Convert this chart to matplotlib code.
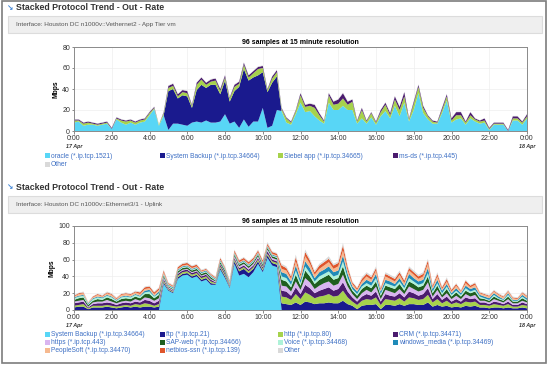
import numpy as np
import matplotlib
matplotlib.use("Agg")
import matplotlib.pyplot as plt
from matplotlib.patches import Rectangle

plt.rcParams['font.family'] = ['Liberation Sans', 'DejaVu Sans']

# ---- data ----
# 96 samples at 15 minute resolution (0:00 17 Apr -> 0:00 18 Apr)
times = np.arange(97) * 0.25
tick_hours = [0, 2, 4, 6, 8, 10, 12, 14, 16, 18, 20, 22, 24]
tick_labels = ['0:00', '2:00', '4:00', '6:00', '8:00', '10:00', '12:00',
               '14:00', '16:00', '18:00', '20:00', '22:00', '0:00']
day_labels = ['17 Apr', '18 Apr']

# chart 1 : Vethernet2 - App Tier vm
oracle = [8, 9, 5, 6, 6, 5, 6, 7, 2, 11, 8, 6, 8, 6, 8, 9, 15, 21, 5, 15,
          1, 7, 7, 6, 5, 8, 9, 8, 10, 8, 8, 9, 16, 7, 9, 3, 11, 4, 9, 9,
          22, 3, 5, 20, 19, 8, 6, 16, 27, 18, 19, 14, 10, 7, 27, 20, 20, 24, 20, 20,
          7, 12, 7, 13, 6, 14, 19, 12, 24, 14, 27, 9, 20, 36, 17, 11, 7, 7, 17, 29,
          8, 11, 12, 6, 12, 9, 7, 8, 1, 6, 6, 6, 0, 10, 10, 6, 12]
backup1 = [0, 0, 0, 0, 0, 0, 0, 0, 0, 0, 0, 0, 0, 0, 0, 0, 0, 0, 0, 0,
           37, 33, 24, 28, 28, 14, 30, 36, 31, 36, 36, 26, 32, 21, 29, 39, 48, 44, 42, 44,
           34, 34, 41, 32, 0, 0, 0, 0, 0, 0, 0, 0, 0, 0, 0, 0, 0, 0, 0, 0,
           0, 0, 0, 0, 0, 0, 0, 0, 0, 0, 0, 0, 0, 0, 0, 0, 0, 0, 0, 0,
           0, 0, 0, 0, 0, 0, 0, 0, 0, 0, 0, 0, 0, 0, 0, 0, 0]
siebel = [2, 1, 2, 2, 1, 1, 1, 1, 0, 1, 2, 3, 2, 2, 2, 2, 2, 1, 1, 2,
          3, 3, 2, 3, 3, 2, 5, 5, 3, 3, 4, 3, 3, 3, 4, 3, 4, 3, 4, 6,
          4, 2, 4, 4, 2, 4, 2, 3, 7, 5, 5, 8, 5, 2, 7, 5, 6, 7, 5, 8,
          2, 8, 2, 4, 2, 4, 6, 3, 6, 6, 6, 2, 6, 6, 5, 3, 2, 1, 3, 4,
          2, 4, 3, 2, 3, 2, 2, 2, 1, 1, 1, 1, 0, 2, 2, 2, 2]
msds = [1, 1, 1, 1, 1, 1, 1, 1, 1, 1, 1, 1, 1, 1, 1, 1, 1, 1, 0, 1,
        2, 2, 2, 2, 2, 1, 2, 2, 2, 2, 2, 2, 2, 1, 2, 2, 2, 2, 2, 2,
        2, 1, 2, 2, 1, 1, 1, 1, 2, 2, 2, 3, 2, 1, 2, 3, 4, 5, 3, 2,
        1, 2, 1, 1, 1, 2, 2, 2, 3, 3, 4, 1, 2, 2, 2, 1, 1, 1, 2, 2,
        2, 3, 3, 1, 3, 1, 1, 2, 1, 1, 1, 1, 1, 2, 2, 1, 2]
other1 = [0.4, 0.4, 0.3, 0.4, 0.3, 0.3, 0.4, 0.4, 0.3, 0.4, 0.4, 0.3, 0.4, 0.3, 0.4, 0.4, 0.5, 0.5, 0.3, 0.4,
          0.5, 0.5, 0.4, 0.5, 0.5, 0.4, 0.5, 0.5, 0.5, 0.5, 0.5, 0.4, 0.5, 0.4, 0.5, 0.5, 0.6, 0.5, 0.5, 0.5,
          0.5, 0.4, 0.5, 0.5, 0.4, 0.4, 0.3, 0.4, 0.5, 0.5, 0.5, 0.5, 0.4, 0.3, 0.5, 0.5, 0.5, 0.6, 0.5, 0.5,
          0.3, 0.5, 0.3, 0.4, 0.3, 0.4, 0.5, 0.4, 0.5, 0.4, 0.5, 0.3, 0.5, 0.6, 0.4, 0.3, 0.3, 0.3, 0.4, 0.5,
          0.3, 0.4, 0.4, 0.3, 0.4, 0.3, 0.3, 0.3, 0.2, 0.3, 0.3, 0.3, 0.2, 0.4, 0.4, 0.3, 0.4]

# chart 2 : Ethernet3/1 - Uplink
backup2 = [0, 0, 0, 0, 0, 0, 0, 0, 0, 0, 0, 0, 0, 0, 0, 0, 0, 0, 0,
           31, 23, 20, 37, 41, 42, 38, 40, 34, 36, 30, 30, 48, 38, 26, 55, 41, 43, 39, 45, 55, 45, 62, 53, 51,
           0, 0, 0, 0, 0, 0, 0, 0, 0, 0, 0, 0, 0, 0, 0, 0, 0, 0, 0, 0, 0, 0, 0, 0, 0, 0,
           0, 0, 0, 0, 0, 0, 0, 0, 0, 0, 0, 0, 0, 0, 0, 0, 0, 0, 0, 0, 0, 0, 0, 0, 0, 0, 0]
ftp = [3, 4, 4, 1, 3, 3, 3, 4, 3, 2, 3, 4, 3, 4, 3, 4, 4, 3, 4,
       2, 1, 1, 2, 2, 2, 2, 2, 2, 2, 2, 1, 2, 2, 1, 3, 5, 6, 5, 4, 3, 2, 3, 3, 3,
       8, 7, 6, 9, 6, 10, 9, 7, 8, 8, 9, 8, 8, 11, 7, 5, 1, 5, 6, 6, 7, 1, 6, 6, 5, 7,
       5, 7, 7, 6, 6, 9, 4, 6, 4, 5, 3, 4, 3, 5, 4, 5, 3, 3, 2, 3, 3, 2, 3, 2, 2, 3, 2]
http = [2, 2, 3, 1, 2, 2, 2, 2, 2, 2, 2, 2, 2, 3, 3, 4, 3, 2, 3,
        2, 1, 1, 2, 2, 2, 2, 2, 2, 2, 2, 1, 2, 2, 1, 2, 2, 2, 2, 2, 2, 2, 2, 2, 2,
        8, 8, 6, 10, 7, 11, 9, 7, 8, 9, 10, 8, 9, 12, 8, 5, 5, 6, 7, 6, 8, 5, 7, 6, 6, 7,
        5, 8, 7, 6, 7, 9, 5, 7, 4, 6, 4, 5, 4, 5, 5, 5, 3, 3, 3, 4, 3, 3, 4, 2, 2, 3, 3]
crm = [3, 3, 3, 1, 2, 3, 3, 3, 3, 2, 3, 3, 3, 3, 3, 4, 4, 3, 4,
       2, 1, 1, 2, 2, 2, 2, 2, 2, 2, 2, 1, 2, 2, 1, 2, 2, 2, 2, 2, 2, 2, 3, 2, 2,
       7, 7, 5, 8, 6, 9, 8, 6, 7, 8, 8, 7, 8, 10, 7, 5, 4, 5, 6, 5, 7, 4, 6, 5, 5, 6,
       5, 7, 6, 5, 6, 8, 4, 6, 4, 5, 3, 4, 3, 5, 4, 4, 3, 3, 2, 3, 3, 2, 3, 2, 2, 3, 2]
https = [2, 2, 2, 1, 2, 2, 2, 3, 2, 2, 2, 2, 2, 3, 2, 3, 3, 3, 3,
         2, 1, 1, 1, 1, 1, 1, 1, 1, 1, 1, 1, 1, 1, 1, 2, 2, 2, 2, 2, 2, 1, 2, 2, 2,
         6, 6, 5, 7, 5, 8, 7, 5, 6, 7, 7, 6, 6, 9, 6, 4, 3, 4, 5, 4, 6, 3, 5, 5, 4, 5,
         4, 6, 5, 5, 5, 7, 3, 5, 3, 4, 3, 4, 3, 4, 3, 4, 2, 2, 2, 3, 2, 2, 3, 2, 2, 2, 2]
sapweb = [2, 3, 3, 2, 2, 3, 2, 3, 3, 2, 3, 3, 3, 3, 3, 4, 5, 3, 4,
          2, 1, 1, 2, 2, 2, 2, 2, 2, 2, 2, 1, 2, 2, 1, 2, 2, 2, 2, 2, 2, 2, 2, 2, 2,
          7, 6, 5, 8, 5, 9, 7, 6, 7, 7, 8, 7, 7, 10, 6, 4, 4, 5, 5, 5, 6, 4, 5, 5, 5, 6,
          4, 6, 6, 5, 5, 7, 4, 5, 3, 5, 3, 4, 3, 4, 4, 4, 3, 2, 2, 3, 2, 2, 3, 2, 2, 3, 2]
voice = [2, 2, 2, 1, 2, 2, 2, 2, 2, 1, 2, 2, 2, 2, 2, 2, 3, 2, 2,
         1, 1, 1, 1, 1, 1, 1, 1, 1, 1, 1, 1, 1, 1, 1, 1, 1, 1, 1, 1, 1, 1, 1, 1, 1,
         4, 4, 3, 5, 3, 5, 4, 3, 4, 4, 4, 4, 4, 6, 4, 2, 2, 3, 3, 3, 4, 2, 3, 3, 3, 3,
         3, 4, 3, 3, 3, 4, 2, 3, 2, 3, 2, 2, 2, 3, 2, 2, 2, 1, 1, 2, 1, 1, 2, 1, 1, 2, 1]
wmedia = [1, 1, 1, 1, 1, 1, 1, 1, 1, 1, 1, 1, 1, 1, 1, 2, 2, 1, 2,
          1, 1, 1, 1, 1, 1, 1, 1, 1, 1, 1, 1, 1, 1, 1, 1, 1, 1, 1, 1, 1, 1, 1, 1, 1,
          5, 5, 4, 6, 4, 6, 6, 4, 5, 5, 6, 5, 5, 7, 5, 3, 3, 3, 4, 4, 5, 3, 4, 4, 3, 4,
          3, 5, 4, 4, 4, 6, 3, 4, 3, 3, 2, 3, 2, 3, 3, 3, 2, 2, 2, 2, 2, 1, 2, 1, 1, 2, 2]
psoft = [1, 2, 2, 1, 1, 2, 1, 2, 2, 1, 2, 2, 2, 2, 2, 2, 2, 2, 2,
         2, 1, 1, 1, 1, 1, 1, 1, 1, 1, 1, 1, 1, 1, 1, 1, 1, 1, 1, 1, 1, 1, 1, 1, 1,
         4, 4, 3, 5, 4, 6, 5, 4, 4, 5, 5, 4, 5, 6, 4, 3, 2, 3, 4, 3, 4, 2, 4, 3, 3, 4,
         3, 4, 4, 3, 4, 5, 2, 4, 2, 3, 2, 3, 2, 3, 2, 3, 2, 2, 2, 2, 2, 2, 2, 2, 1, 2, 2]
netbios = [1, 1, 1, 0, 1, 1, 1, 1, 1, 1, 1, 1, 1, 1, 2, 2, 2, 2, 2,
           2, 1, 1, 2, 2, 2, 2, 2, 1, 1, 1, 1, 2, 1, 1, 2, 2, 2, 2, 2, 2, 2, 2, 2, 2,
           4, 3, 3, 5, 3, 5, 4, 3, 4, 4, 4, 4, 4, 6, 4, 2, 2, 3, 3, 3, 3, 2, 3, 3, 3, 3,
           3, 3, 3, 3, 3, 4, 2, 3, 2, 3, 2, 2, 1, 3, 2, 2, 1, 1, 1, 1, 1, 1, 1, 1, 1, 1, 1]
other2 = [1, 0.5, 1, 1, 0.5, 0.5, 1, 1, 1, 1, 0.5, 1, 0.5, 1, 1, 1, 1, 1, 1,
          1, 1, 1, 1, 1, 1, 1, 1, 1, 1, 1, 1, 1, 1, 1, 1, 1, 1, 1, 1, 1, 1, 2, 1, 1,
          2, 2, 2, 3, 2, 3, 2, 2, 2, 2, 3, 2, 2, 3, 2, 1, 1, 2, 2, 2, 2, 1, 2, 2, 2, 2,
          1, 2, 2, 2, 2, 2, 1, 2, 1, 2, 1, 1, 1, 1, 1, 1, 1, 1, 1, 1, 1, 1, 1, 1, 1, 1, 1]

names1 = ['oracle (*.ip.tcp.1521)', 'System Backup (*.ip.tcp.34664)',
          'Siebel app (*.ip.tcp.34665)', 'ms-ds (*.ip.tcp.445)', 'Other']
names2 = ['System Backup (*.ip.tcp.34664)', 'ftp (*.ip.tcp.21)', 'http (*.ip.tcp.80)',
          'CRM (*.ip.tcp.34471)', 'https (*.ip.tcp.443)', 'SAP-web (*.ip.tcp.34466)',
          'Voice (*.ip.tcp.34468)', 'windows_media (*.ip.tcp.34469)',
          'PeopleSoft (*.ip.tcp.34470)', 'netbios-ssn (*.ip.tcp.139)', 'Other']

# colours
cyan, navy, lime, plum = '#58d6f6', '#1a1a8e', '#a6d24c', '#4b1b6e'
gray = '#d9d9d9'
colors1 = [cyan, navy, lime, plum, gray]
colors2 = [cyan, navy, lime, plum, '#d9b5f0', '#1f5e1f', '#aef2d8',
           '#1f8bb8', '#f6b98f', '#df552c', gray]

W, H = 551, 368


def rect(x0, y0, x1, y1):
    return [x0 / W, 1 - y1 / H, (x1 - x0) / W, (y1 - y0) / H]


def fx(x):
    return x / W


def fy(y):
    return 1 - y / H


fig = plt.figure(figsize=(W / 100, H / 100), dpi=100)

# outer frame
fig.add_artist(Rectangle((fx(1.5), fy(363)), (546 - 1.5) / W, (363 - 1) / H,
                         transform=fig.transFigure, fill=False,
                         edgecolor='#7d7d7d', lw=1.2))


def header(y_title, y_box, text):
    fig.text(fx(10), fy(y_title + 1), '\u2198', color='#3b82d6', fontsize=5.5,
             fontweight='bold', ha='center', va='center')
    fig.text(fx(16), fy(y_title), 'Stacked Protocol Trend - Out - Rate',
             fontsize=6.3, fontweight='bold', color='#333333', va='center')
    fig.add_artist(Rectangle((fx(8), fy(y_box + 17)), (542 - 8) / W, 17 / H,
                             transform=fig.transFigure, facecolor='#efefef',
                             edgecolor='#dcdcdc', lw=0.8))
    fig.text(fx(16), fy(y_box + 8.5), text, fontsize=4.6, color='#555555',
             va='center')


def chart(box, ymax, series, colors):
    ax = fig.add_axes(rect(*box))
    ax.stackplot(times, *series, colors=colors, linewidth=0)
    ax.set_xlim(0, 24)
    ax.set_ylim(0, ymax)
    ax.set_xticks(tick_hours)
    ax.set_xticklabels(tick_labels)
    ax.set_yticks(range(0, ymax + 1, 20))
    ax.tick_params(labelsize=5, length=1.8, width=0.6, color='#777777',
                   labelcolor='#333333', pad=1)
    for s in ax.spines.values():
        s.set_color('#8a8a8a')
        s.set_linewidth(0.7)
    ax.grid(True, color='#eeeeee', lw=0.5)
    ax.set_axisbelow(True)
    ax.set_ylabel('Mbps', fontsize=4.8, fontweight='bold', labelpad=2)
    ax.set_title('96 samples at 15 minute resolution', fontsize=5,
                 fontweight='bold', pad=2.5)
    for h, lab in zip([0, 24], day_labels):
        ax.annotate(lab, xy=(h, 0), xycoords=('data', 'axes fraction'),
                    xytext=(0, -9.3), textcoords='offset points',
                    ha='center', va='top', fontsize=3.9,
                    fontweight='bold', fontstyle='italic', color='#333333')
    return ax


def legend(names, colors, y0):
    cols = [47, 162, 280, 395]
    for i, (n, c) in enumerate(zip(names, colors)):
        x = cols[i % 4]
        y = y0 + (i // 4) * 8.4
        fig.add_artist(Rectangle((fx(x - 2.5), fy(y + 2.5)), 5 / W, 5 / H,
                                 transform=fig.transFigure, facecolor=c,
                                 edgecolor='none'))
        fig.text(fx(x + 4), fy(y), n, fontsize=4.8, color='#3d6fc4',
                 va='center')


header(8, 16, 'Interface: Houston DC n1000v::Vethernet2 - App Tier vm')
chart((74, 47, 527, 131), 80, [oracle, backup1, siebel, msds, other1], colors1)
legend(names1, colors1, 156)

header(187, 196, 'Interface: Houston DC n1000v::Ethernet3/1 - Uplink')
chart((74, 226, 527, 310), 100,
      [backup2, ftp, http, crm, https, sapweb, voice, wmedia, psoft, netbios, other2],
      colors2)
legend(names2, colors2, 334)

fig.savefig('out.png', dpi=100)
